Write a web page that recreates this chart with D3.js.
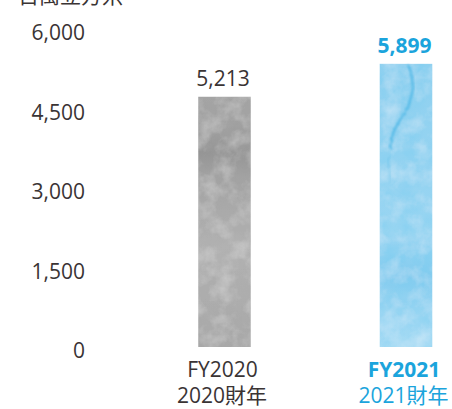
<!DOCTYPE html>
<html><head><meta charset="utf-8">
<script src="https://cdn.jsdelivr.net/npm/d3@7"></script>
<style>
html,body{margin:0;padding:0;background:#fff;}
svg{display:block;font-family:"Open Sans","Noto Sans CJK TC",sans-serif;}
</style></head>
<body>
<svg id="c" width="452" height="409"></svg>
<script>
const unitLabel = "百萬立方米";
const categories = ["FY2020", "FY2021"];
const subLabels = ["2020財年", "2021財年"];
const values = [5213, 5899];
const tickValues = [0, 1500, 3000, 4500, 6000];

const svg = d3.select("#c");
const dark = "#3a3434", blue = "#1ba4dc";

const defs = svg.append("defs");
const gGray = defs.append("linearGradient").attr("id","gGray").attr("x1",0).attr("x2",0).attr("y1",0).attr("y2",1);
[[0,"#a4a4a4"],[0.12,"#a0a0a0"],[0.22,"#959595"],[0.32,"#a2a2a2"],[0.6,"#b2b2b2"],[0.85,"#acacac"],[1,"#a8a8a8"]]
  .forEach(([o,c])=>gGray.append("stop").attr("offset",o).attr("stop-color",c));
const gBlue = defs.append("linearGradient").attr("id","gBlue").attr("x1",0).attr("x2",0).attr("y1",0).attr("y2",1);
[[0,"#8ed0f0"],[0.3,"#94d3f1"],[0.6,"#99d5f2"],[0.75,"#84ccef"],[0.9,"#9dd7f3"],[1,"#a6dbf4"]]
  .forEach(([o,c])=>gBlue.append("stop").attr("offset",o).attr("stop-color",c));

function makeTex(id, seed, shade){
  const f = defs.append("filter").attr("id",id).attr("x",0).attr("y",0).attr("width",1).attr("height",1);
  f.append("feTurbulence").attr("type","fractalNoise").attr("baseFrequency","0.06").attr("numOctaves",4).attr("seed",seed).attr("result","n");
  f.append("feColorMatrix").attr("in","n").attr("type","matrix")
    .attr("values",`0 0 0 0 ${shade[0]}  0 0 0 0 ${shade[1]}  0 0 0 0 ${shade[2]}  0.6 0 0 0 -0.22`).attr("result","d");
  f.append("feColorMatrix").attr("in","n").attr("type","matrix")
    .attr("values",`0 0 0 0 1  0 0 0 0 1  0 0 0 0 1  0 -0.5 0 0 0.3`).attr("result","l");
  f.append("feComposite").attr("in","d").attr("in2","SourceGraphic").attr("operator","in").attr("result","dc");
  f.append("feComposite").attr("in","l").attr("in2","SourceGraphic").attr("operator","in").attr("result","lc");
  const m = f.append("feMerge");
  m.append("feMergeNode").attr("in","SourceGraphic");
  m.append("feMergeNode").attr("in","dc");
  m.append("feMergeNode").attr("in","lc");
}
makeTex("texGray", 7, [0.4,0.4,0.4]);
makeTex("texBlue", 11, [0.15,0.6,0.88]);
const vf = defs.append("filter").attr("id","vein");
vf.append("feTurbulence").attr("type","turbulence").attr("baseFrequency","0.12").attr("numOctaves",2).attr("seed",4).attr("result","t");
vf.append("feDisplacementMap").attr("in","SourceGraphic").attr("in2","t").attr("scale",3);
vf.append("feGaussianBlur").attr("stdDeviation",0.8);

const x = d3.scalePoint().domain(categories).range([224.5, 406]);
const barW = 52.5;
const y = d3.scaleLinear().domain([0, 6000]).range([350, 32]);
const yBar = d3.scaleLinear().domain([0, 6000]).range([347, 59]);

svg.append("text").attr("x",18).attr("y",3).attr("font-size",21).attr("fill",dark)
  .attr("font-family","'Noto Sans CJK TC',sans-serif").text(unitLabel);

const ax = svg.append("g").attr("transform","translate(85,0)")
  .call(d3.axisLeft(y).tickValues(tickValues).tickSize(0).tickPadding(0).tickFormat(d3.format(",")));
ax.select(".domain").remove();
ax.selectAll("text").attr("font-size",21).attr("fill",dark).attr("font-family","'Open Sans',sans-serif").attr("dy","0.36em");

const fills = ["url(#gGray)","url(#gBlue)"], tex = ["url(#texGray)","url(#texBlue)"];
categories.forEach((c,i)=>{
  svg.append("rect").attr("x",x(c)-barW/2).attr("y",yBar(values[i])).attr("width",barW)
    .attr("height",yBar(0)-yBar(values[i])).attr("fill",fills[i]).attr("filter",tex[i]);
});
{
  const c = categories[1], x0 = x(c)-barW/2, t = yBar(values[1]), h = yBar(0)-t;
  const pts = [[0.52,0],[0.6,0.04],[0.62,0.075],[0.58,0.11],[0.5,0.16],[0.35,0.2],[0.24,0.24],[0.2,0.3]];
  svg.append("path").attr("d", d3.line().curve(d3.curveCatmullRom)(pts.map(p=>[x0+p[0]*barW, t+p[1]*h])))
    .attr("fill","none").attr("stroke","#45b4e5").attr("stroke-width",2.4).attr("opacity",0.75).attr("filter","url(#vein)");
  const pts2 = [[0.2,0.3],[0.16,0.36],[0.2,0.42]];
  svg.append("path").attr("d", d3.line().curve(d3.curveCatmullRom)(pts2.map(p=>[x0+p[0]*barW, t+p[1]*h])))
    .attr("fill","none").attr("stroke","#6cc3ea").attr("stroke-width",1.5).attr("opacity",0.5).attr("filter","url(#vein)");
}

categories.forEach((c,i)=>{
  svg.append("text").attr("x",x(c)-1.5).attr("y",yBar(values[i])-11).attr("text-anchor","middle")
    .attr("font-size",21).attr("font-weight",i===1?700:400).attr("fill",i===1?blue:dark)
    .text(d3.format(",")(values[i]));
});
categories.forEach((c,i)=>{
  svg.append("text").attr("x",x(c)-2).attr("y",377).attr("text-anchor","middle")
    .attr("font-size",21).attr("font-weight",i===1?700:400).attr("fill",i===1?blue:dark).text(c);
  svg.append("text").attr("x",x(c)-2.5).attr("y",403).attr("text-anchor","middle")
    .attr("font-size",21).attr("fill",i===1?blue:dark).text(subLabels[i]);
});
</script>
</body></html>
